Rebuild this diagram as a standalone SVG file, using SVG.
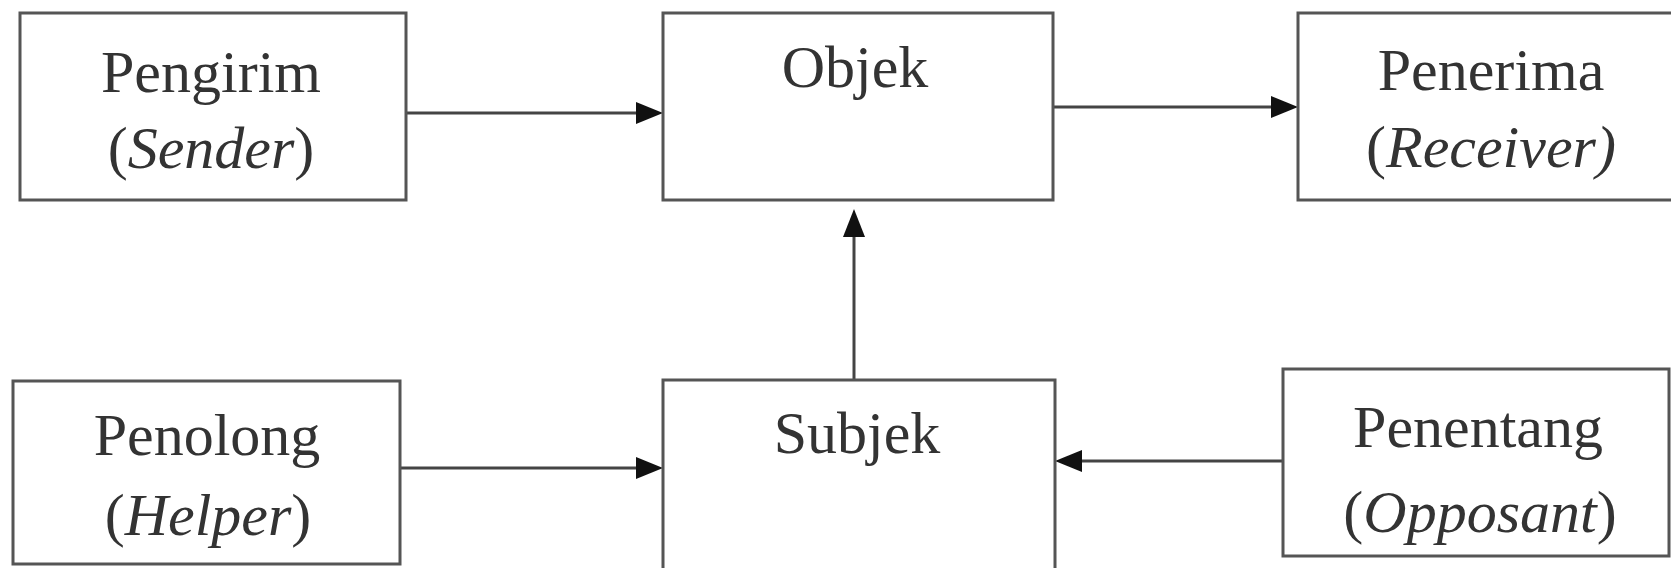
<svg xmlns="http://www.w3.org/2000/svg" width="1671" height="568" viewBox="0 0 1671 568">
<defs>
<style>
.box{fill:#fff;stroke:#555;stroke-width:3}
.t{font-family:"Liberation Serif","Times New Roman",serif;font-size:60px;fill:#333;text-anchor:middle}
.i{font-style:italic}
.c{stroke:#444;stroke-width:3;fill:none}
.h{fill:#111}
</style>
</defs>
<rect width="1671" height="568" fill="#fff"/>
<g id="connectors">
<line class="c" x1="406" y1="113" x2="640" y2="113"/>
<polygon class="h" points="663,113 636,102 636,124"/>
<line class="c" x1="1053" y1="107" x2="1275" y2="107"/>
<polygon class="h" points="1298,107 1271,96 1271,118"/>
<line class="c" x1="854" y1="380" x2="854" y2="232"/>
<polygon class="h" points="854,209 843,237 865,237"/>
<line class="c" x1="400" y1="468" x2="640" y2="468"/>
<polygon class="h" points="663,468 636,457 636,479"/>
<line class="c" x1="1283" y1="461" x2="1078" y2="461"/>
<polygon class="h" points="1055,461 1082,450 1082,472"/>
</g>
<g id="pengirim">
<rect class="box" x="20" y="13" width="386" height="187"/>
<text class="t" x="211" y="92">Pengirim</text>
<text class="t" x="211" y="168">(<tspan class="i">Sender</tspan>)</text>
</g>
<g id="objek">
<rect class="box" x="663" y="13" width="390" height="187"/>
<text class="t" x="855" y="87">Objek</text>
</g>
<g id="penerima">
<rect class="box" x="1298" y="13" width="380" height="187"/>
<text class="t" x="1491" y="90">Penerima</text>
<text class="t" x="1491" y="167">(<tspan class="i">Receiver)</tspan></text>
</g>
<g id="penolong">
<rect class="box" x="13" y="381" width="387" height="183"/>
<text class="t" x="207" y="455">Penolong</text>
<text class="t" x="208" y="535">(<tspan class="i">Helper</tspan>)</text>
</g>
<g id="subjek">
<rect class="box" x="663" y="380" width="392" height="190"/>
<text class="t" x="857" y="453">Subjek</text>
</g>
<g id="penentang">
<rect class="box" x="1283" y="369" width="386" height="187"/>
<text class="t" x="1478" y="447">Penentang</text>
<text class="t" x="1480" y="532">(<tspan class="i">Opposant</tspan>)</text>
</g>
</svg>
